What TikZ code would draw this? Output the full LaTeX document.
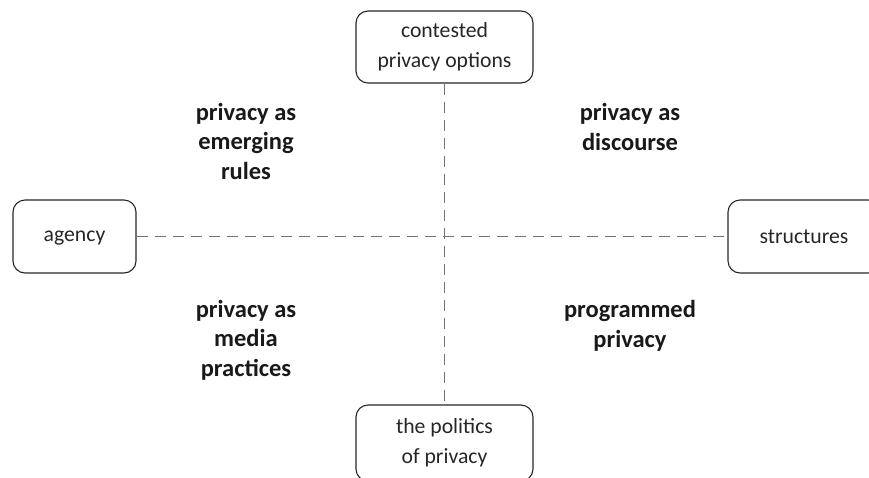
\documentclass[tikz,border=0pt]{standalone}
\usepackage{fontspec}
\setmainfont{Carlito}
\usetikzlibrary{positioning}

\begin{document}
\begin{tikzpicture}[x=1pt,y=-1pt,
  pole/.style={draw=black!85,line width=1.1pt,rounded corners=12pt,align=center,
    inner sep=0pt,font=\fontsize{21.7}{30}\selectfont,text=black!85},
  quad/.style={align=center,font=\fontsize{24.5}{29.5}\selectfont\bfseries,text=black!90},
  axis/.style={draw=black!55,line width=1.8pt,dash pattern=on 11pt off 7pt}]
\useasboundingbox (0,0) rectangle (869,477);
\clip (0,0) rectangle (869,477);
% the four poles
\node[pole,minimum width=177pt,minimum height=72pt] (contested) at (444.5,47) {contested\\privacy options};
\node[pole,minimum width=177pt,minimum height=76pt] (politics) at (444.5,443) {the politics\\of privacy};
\node[pole,minimum width=123pt,minimum height=73pt,text depth=0pt] (agency) at (74.5,236.5) {agency};
\node[pole,minimum width=152pt,minimum height=73pt,text depth=0pt] (structures) at (804,236.5) {structures};
% axes
\draw[axis] (contested) -- (politics);
\draw[axis] (agency) -- (structures);
% quadrants
\node[quad] (rules) at (246,141) {privacy as\\emerging\\rules};
\node[quad] (discourse) at (630,127) {privacy as\\discourse};
\node[quad] (practices) at (246,340) {privacy as\\media\\practices};
\node[quad] (programmed) at (630,326) {programmed\\privacy};
\end{tikzpicture}
\end{document}
